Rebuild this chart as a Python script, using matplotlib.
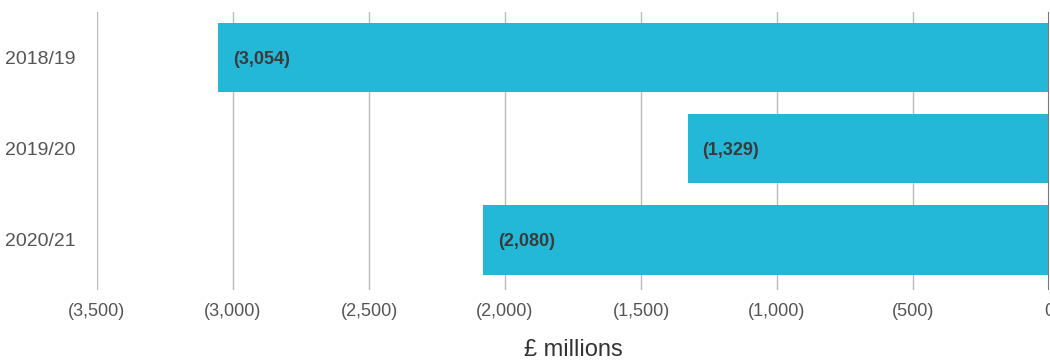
import matplotlib.pyplot as plt

years = ['2018/19', '2019/20', '2020/21']
values = [-3054, -1329, -2080]
ticks = [-3500, -3000, -2500, -2000, -1500, -1000, -500, 0]


def fmt(v):
    if v == 0:
        return '0'
    return '({:,})'.format(abs(v))


plt.rcParams['font.family'] = ['Liberation Sans', 'DejaVu Sans']

fig = plt.figure(figsize=(10.5, 3.64), dpi=100)
ax = fig.add_axes([97 / 1050, 1 - 290 / 364, 952 / 1050, 278 / 364])

pos = list(range(len(years)))
ax.barh(pos, values, height=0.76, color='#23b8d8', zorder=2)
for p, v in zip(pos, values):
    ax.text(v + 55, p + 0.02, fmt(v), va='center', ha='left', fontsize=13,
            fontweight='bold', color='#3a3a3a', zorder=3)

ax.set_xlim(-3500, 0)
ax.set_ylim(2.55, -0.5)
ax.set_xticks(ticks)
ax.set_xticklabels([fmt(t) for t in ticks])
ax.set_yticks(pos)
ax.set_yticklabels(years)
ax.tick_params(axis='both', length=0, labelcolor='#555555')
ax.tick_params(axis='x', pad=9, labelsize=13)
ax.tick_params(axis='y', pad=0, labelsize=14)
for lab in ax.get_yticklabels():
    lab.set_horizontalalignment('left')
    lab.set_x(-92 / 952)

ax.grid(axis='x', color='#bbbbbb', linewidth=1, zorder=0)
ax.axvline(0, color='#777777', linewidth=1.5, zorder=4)
for s in ax.spines.values():
    s.set_visible(False)

ax.set_xlabel('£ millions', fontsize=17, color='#333333', labelpad=14)

fig.savefig('out.png', dpi=100)
